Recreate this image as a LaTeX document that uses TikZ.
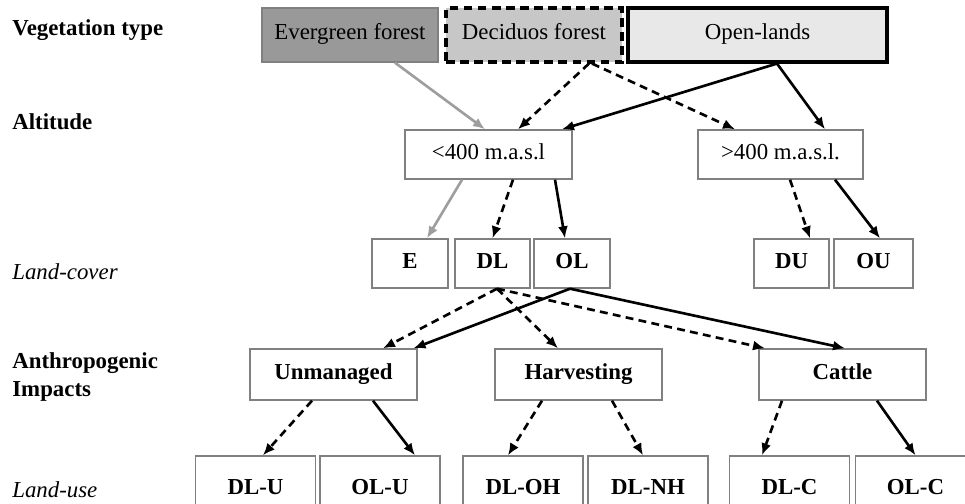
\documentclass[tikz,border=0pt]{standalone}
\usepackage{fontspec}
\setmainfont{Liberation Serif}
\usepackage{tikz}
\usetikzlibrary{positioning,arrows.meta}

\begin{document}
\begin{tikzpicture}[
    font=\fontsize{13}{15.5}\selectfont,
    box/.style     = {rectangle, draw=black!50, line width=0.8pt, fill=white, inner sep=0pt,
                      text height=1.6ex, text depth=0.45ex},
    boxb/.style    = {box, font=\fontsize{13}{15.5}\selectfont\bfseries},
    veg1/.style    = {box, draw=black!50, fill=black!40, minimum width=3.52cm, minimum height=1.08cm},
    veg2/.style    = {box, draw=black, line width=1.8pt, dash pattern=on 5pt off 3pt, fill=black!22,
                      minimum width=3.52cm, minimum height=1.08cm},
    veg3/.style    = {box, draw=black, line width=1.8pt, fill=black!9, minimum width=5.18cm, minimum height=1.08cm},
    alt/.style     = {box, minimum height=0.98cm},
    cover/.style   = {boxb, minimum height=0.98cm},
    impact/.style  = {boxb, minimum width=3.34cm, minimum height=1.02cm},
    use/.style     = {boxb, minimum width=2.4cm, minimum height=1.36cm},
    lab/.style     = {anchor=west, inner sep=0pt, font=\fontsize{13}{15.5}\selectfont\bfseries, align=left},
    edge/.style    = {-{Latex[length=2.4mm,width=2mm]}, line width=1.5pt},
    evg/.style     = {edge, color=black!38},
    dcd/.style     = {edge, color=black, dash pattern=on 4.5pt off 3pt},
    opn/.style     = {edge, color=black},
]
\useasboundingbox (0,0) rectangle (19.3,10.08);

% --- row labels ---
\node[lab] (l1) at (0.24, 9.48) {Vegetation type};
\node[lab] (l2) at (0.24, 7.64) {Altitude};
\node[lab, font=\fontsize{13}{15.5}\selectfont\itshape] (l3) at (0.24, 4.64) {Land-cover};
\node[lab] (l4) at (0.24, 2.54) {Anthropogenic\\Impacts};
\node[lab, font=\fontsize{13}{15.5}\selectfont\itshape] (l5) at (0.24, 0.28) {Land-use};

% --- vegetation type ---
\node[veg1] (ever)  at (7.00, 9.38)  {Evergreen forest};
\node[veg2] (decid) at (10.68, 9.38) {Deciduos forest};
\node[veg3] (open)  at (15.15, 9.38) {Open-lands};

% --- altitude ---
\node[alt, minimum width=3.34cm] (low)  at (9.77, 6.99)  {<400 m.a.s.l};
\node[alt, minimum width=3.30cm] (high) at (15.61, 6.99) {>400 m.a.s.l.};

% --- land-cover ---
\node[cover, minimum width=1.52cm] (e)  at (8.20, 4.81)  {E};
\node[cover, minimum width=1.50cm] (dl) at (9.85, 4.81)  {DL};
\node[cover, minimum width=1.52cm] (ol) at (11.44, 4.81) {OL};
\node[cover, minimum width=1.50cm] (du) at (15.83, 4.81) {DU};
\node[cover, minimum width=1.58cm] (ou) at (17.47, 4.81) {OU};

% --- anthropogenic impacts ---
\node[impact] (unm)    at (6.67, 2.59)  {Unmanaged};
\node[impact] (harv)   at (11.57, 2.59) {Harvesting};
\node[impact] (cattle) at (16.85, 2.59) {Cattle};

% --- land-use ---
\node[use] (dlu)  at (5.11, 0.28)  {DL-U};
\node[use] (olu)  at (7.60, 0.28)  {OL-U};
\node[use] (dloh) at (10.46, 0.28) {DL-OH};
\node[use] (dlnh) at (12.96, 0.28) {DL-NH};
\node[use] (dlc)  at (15.79, 0.28) {DL-C};
\node[use] (olc)  at (18.31, 0.28) {OL-C};

% --- vegetation -> altitude ---
\draw[evg] ([xshift=0.90cm]ever.south)  -- ([xshift=-0.07cm]low.north);
\draw[dcd] ([xshift=1.10cm]decid.south) -- ([xshift=0.59cm]low.north);
\draw[dcd] ([xshift=1.16cm]decid.south) -- ([xshift=-0.91cm]high.north);
\draw[opn] ([xshift=0.39cm]open.south)  -- ([xshift=1.47cm]low.north);
\draw[opn] ([xshift=0.39cm]open.south)  -- ([xshift=0.89cm]high.north);

% --- altitude -> land-cover ---
\draw[evg] ([xshift=-0.53cm]low.south) -- ([xshift=0.34cm]e.north);
\draw[dcd] ([xshift=0.49cm]low.south)  -- (dl.north);
\draw[opn] ([xshift=1.33cm]low.south)  -- ([xshift=-0.14cm]ol.north);
\draw[dcd] ([xshift=0.19cm]high.south) -- ([xshift=0.37cm]du.north);
\draw[opn] ([xshift=1.09cm]high.south) -- ([xshift=0.13cm]ou.north);

% --- land-cover -> impacts ---
\draw[dcd] ([xshift=0.09cm]dl.south)  -- ([xshift=0.99cm]unm.north);
\draw[dcd] ([xshift=0.09cm]dl.south)  -- ([xshift=-0.41cm]harv.north);
\draw[dcd] ([xshift=0.09cm]dl.south)  -- ([xshift=-1.55cm]cattle.north);
\draw[opn] ([xshift=-0.04cm]ol.south) -- ([xshift=1.60cm]unm.north);
\draw[opn] ([xshift=-0.04cm]ol.south) -- ([xshift=0.05cm]cattle.north);

% --- impacts -> land-use ---
\draw[dcd] ([xshift=-0.43cm]unm.south)    -- ([xshift=0.15cm]dlu.north);
\draw[opn] ([xshift=0.79cm]unm.south)     -- ([xshift=0.70cm]olu.north);
\draw[dcd] ([xshift=-0.73cm]harv.south)   -- ([xshift=-0.30cm]dloh.north);
\draw[dcd] ([xshift=0.67cm]harv.south)    -- ([xshift=-0.10cm]dlnh.north);
\draw[dcd] ([xshift=-1.21cm]cattle.south) -- ([xshift=-0.55cm]dlc.north);
\draw[opn] ([xshift=0.69cm]cattle.south)  -- (olc.north);

\end{tikzpicture}
\end{document}
